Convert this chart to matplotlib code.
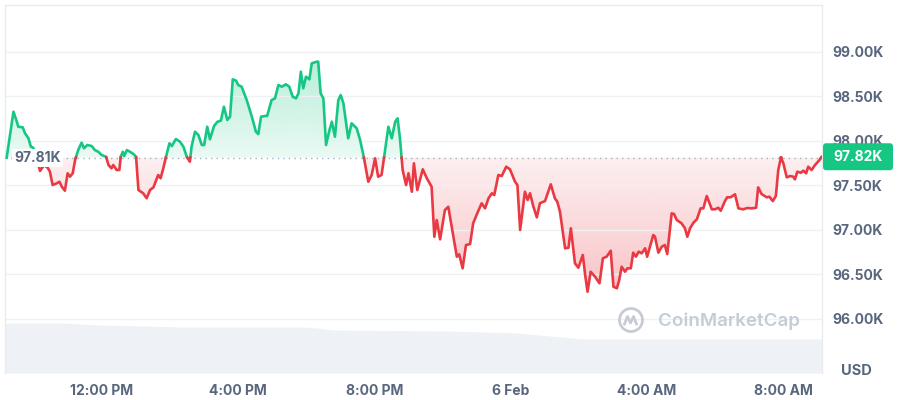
import numpy as np
import matplotlib
matplotlib.use("Agg")
import matplotlib.pyplot as plt
from matplotlib.patches import FancyBboxPatch, Circle, PathPatch
from matplotlib.path import Path
from matplotlib.colors import to_rgb
import matplotlib.transforms as mtransforms

plt.rcParams['font.family'] = ['Inter', 'DejaVu Sans']

# ---- data: hours since 00:00 on 5 Feb (values > 24 are on 6 Feb) ----
hours = [
    9.20, 9.40, 9.50, 9.54, 9.67, 9.74, 9.84, 9.91, 9.98, 10.06,
    10.12, 10.18, 10.30, 10.41, 10.47,
    10.55, 10.67, 10.75, 10.82, 10.91, 10.99, 11.06, 11.14, 11.21, 11.30,
    11.40, 11.47, 11.57, 11.70, 11.79, 11.89, 11.99, 12.12, 12.19, 12.28,
    12.33, 12.43, 12.51, 12.55, 12.61, 12.65, 12.73, 12.82, 12.92, 13.00,
    13.07, 13.21, 13.31, 13.41, 13.51, 13.65, 13.72, 13.80, 13.88, 13.98,
    14.05, 14.17, 14.29, 14.39, 14.49, 14.58, 14.63, 14.73, 14.83, 14.93,
    15.00, 15.09, 15.17, 15.29, 15.39, 15.49, 15.58, 15.68, 15.76, 15.84,
    15.94, 16.00, 16.10, 16.25, 16.40, 16.52, 16.59, 16.67, 16.79, 16.85,
    16.98, 17.08, 17.18, 17.28, 17.40, 17.50, 17.60, 17.70, 17.77, 17.84,
    17.91, 17.99, 18.09, 18.16, 18.31, 18.35, 18.42, 18.50, 18.58, 18.68,
    18.75, 18.84, 18.94, 19.01, 19.09, 19.23, 19.33, 19.48, 19.58, 19.69,
    19.82, 19.92, 20.02, 20.11, 20.21, 20.28, 20.41, 20.51, 20.61, 20.68,
    20.75, 20.83, 20.93, 21.00, 21.10, 21.16, 21.26, 21.42, 21.54, 21.68,
    21.76, 21.83, 21.93, 22.07, 22.17, 22.37, 22.42, 22.49, 22.59, 22.69,
    22.81, 22.90, 23.02, 23.15, 23.25, 23.35, 23.45, 23.52, 23.64, 23.74,
    23.87, 23.98, 24.13, 24.20, 24.28, 24.42, 24.50, 24.57, 24.67, 24.77,
    24.86, 25.01, 25.18, 25.30, 25.37, 25.45, 25.60, 25.70, 25.77, 25.89,
    25.99, 26.12, 26.19, 26.26, 26.35, 26.48, 26.61, 26.71, 26.82, 26.94,
    27.02, 27.12, 27.19, 27.26, 27.36, 27.43, 27.53, 27.60, 27.68, 27.76,
    27.85, 27.95, 28.01, 28.19, 28.24, 28.34, 28.44, 28.53, 28.60, 28.73,
    28.80, 28.88, 29.02, 29.12, 29.19, 29.27, 29.37, 29.47, 29.58, 29.66,
    29.76, 29.91, 30.00, 30.10, 30.17, 30.30, 30.36, 30.46, 30.59, 30.69,
    30.83, 30.95, 31.08, 31.21, 31.27, 31.37, 31.52, 31.60, 31.70, 31.79,
    31.86, 31.94, 32.01, 32.11, 32.21, 32.30, 32.35, 32.42, 32.52, 32.60,
    32.68, 32.74, 32.84, 32.94, 33.07, 33.14,
]

prices = [
    97810, 98326, 98213, 98157, 98151, 98083, 98027, 97933, 97921, 97820,
    97749, 97660, 97727, 97693, 97652,
    97502, 97521, 97539, 97483, 97438, 97634, 97596, 97634, 97783, 97895,
    97978, 97915, 97952, 97940, 97895, 97876, 97839, 97820, 97727, 97690,
    97727, 97671, 97671, 97820, 97876, 97828, 97895, 97876, 97851, 97820,
    97446, 97409, 97353, 97446, 97476, 97615, 97578, 97690, 97820, 97971,
    97940, 98019, 97989, 97933, 97820, 97764, 97933, 98101, 98064, 97952,
    97952, 98157, 98016, 98165, 98213, 98225, 98382, 98233, 98270, 98690,
    98674, 98626, 98607, 98457, 98270, 98101, 98075, 98270, 98278, 98278,
    98457, 98476, 98626, 98607, 98634, 98607, 98494, 98476, 98533, 98775,
    98589, 98719, 98690, 98870, 98888, 98888, 98533, 98476, 97952, 98120,
    98213, 98045, 98457, 98513, 98420, 98027, 98196, 98139, 98008, 97813,
    97539, 97615, 97802, 97596, 97615, 97802, 98157, 98027, 98213, 98252,
    98027, 97671, 97502, 97634, 97427, 97746, 97446, 97679, 97578, 97483,
    96921, 97109, 96892, 97221, 97258, 96809, 96697, 96724, 96566, 96828,
    96839, 97072, 97184, 97297, 97240, 97353, 97409, 97390, 97615, 97603,
    97708, 97679, 97539, 97502, 96997, 97427, 97334, 97409, 97258, 97139,
    97297, 97322, 97510, 97353, 97315, 97202, 96791, 96798, 97016, 96622,
    96573, 96716, 96491, 96303, 96528, 96472, 96398, 96679, 96697, 96764,
    96360, 96342, 96435, 96584, 96528, 96566, 96566, 96742, 96697, 96753,
    96735, 96791, 96697, 96940, 96921, 96742, 96809, 96828, 96727, 97184,
    97176, 97109, 97072, 97016, 96921, 97016, 97079, 97117, 97240, 97240,
    97379, 97229, 97229, 97247, 97213, 97326, 97364, 97364, 97398, 97240,
    97229, 97244, 97240, 97247, 97476, 97401, 97364, 97371, 97322, 97379,
    97671, 97813, 97746, 97589, 97603, 97596, 97566, 97652, 97640, 97663,
    97634, 97708, 97671, 97727, 97783, 97820,
]

# rolling volume (relative units) sampled along the day
vol_hours = [9.15, 10.77, 11.94, 14.38, 17.81, 18.31, 18.78, 22.22, 23.19, 24.19, 25.16, 26.13, 33.15]
vol_values = [50, 50, 48, 46, 46, 45, 43, 42, 41, 40, 37, 34, 34]

open_price = 97810
last_price = 97820
open_label = "97.81K"
last_label = "97.82K"

price_ticks = [96000, 96500, 97000, 97500, 98000, 98500, 99000]
price_tick_labels = ["96.00K", "96.50K", "97.00K", "97.50K", "98.00K", "98.50K", "99.00K"]
time_ticks = [12, 16, 20, 24, 28, 32]
time_tick_labels = ["12:00 PM", "4:00 PM", "8:00 PM", "6 Feb", "4:00 AM", "8:00 AM"]

GREEN = "#16c784"
RED = "#ea3943"
LABEL = "#58667e"
GRID = "#eef0f4"

# ---- figure ----
fig = plt.figure(figsize=(9, 4), dpi=100)
fig.patch.set_facecolor("white")
rect = [5 / 900, 1 - 373 / 400, 817 / 900, 368 / 400]
xlim = (9.151, 33.145)
ylim = (95390, 99525)

axv = fig.add_axes(rect, zorder=0)
ax = fig.add_axes(rect, zorder=1)
ax.set_facecolor("none")

# volume
axv.fill_between(vol_hours, 0, vol_values, color="#eef1f5", lw=0)
axv.set_xlim(*xlim)
axv.set_ylim(0, 368)
axv.axis("off")

# price line split at the opening price
t = np.array(hours, float)
p = np.array(prices, float)
base = open_price
tt, pp = [t[0]], [p[0]]
for i in range(1, len(t)):
    p0, p1 = p[i - 1], p[i]
    if (p0 - base) * (p1 - base) < 0:
        tc = t[i - 1] + (base - p0) / (p1 - p0) * (t[i] - t[i - 1])
        tt.append(tc)
        pp.append(base)
    tt.append(t[i])
    pp.append(p[i])
tt = np.array(tt)
pp = np.array(pp)


def gradient_fill(ax, x, upper, lower, color, y0, y1, a0, a1):
    verts = np.column_stack([np.r_[x, x[::-1]], np.r_[upper, lower[::-1]]])
    patch = PathPatch(Path(verts), facecolor="none", edgecolor="none", transform=ax.transData)
    ax.add_patch(patch)
    n = 256
    rgba = np.zeros((n, 1, 4))
    rgba[..., :3] = to_rgb(color)
    rgba[:, 0, 3] = np.linspace(a0, a1, n)
    im = ax.imshow(rgba, extent=[x[0], x[-1], y0, y1], origin="lower",
                   aspect="auto", zorder=1, interpolation="bilinear")
    im.set_clip_path(patch)


up = np.maximum(pp, base)
dn = np.minimum(pp, base)
basearr = np.full_like(pp, base)
gradient_fill(ax, tt, up, basearr, GREEN, base, up.max(), 0.09, 0.30)
gradient_fill(ax, tt, basearr, dn, RED, dn.min(), base, 0.30, 0.08)

green = np.where(pp >= base, pp, np.nan)
red = np.where(pp <= base, pp, np.nan)
ax.plot(tt, green, color=GREEN, lw=1.9, zorder=3, solid_joinstyle="round")
ax.plot(tt, red, color=RED, lw=1.9, zorder=3, solid_joinstyle="round")

# baseline dotted
ax.axhline(base, color="#a6b0c3", lw=1.0, ls=(0, (1, 3)), zorder=2)

ax.set_xlim(*xlim)
ax.set_ylim(*ylim)

# grid + ticks
ax.set_yticks(price_ticks)
ax.set_yticklabels(price_tick_labels)
ax.yaxis.tick_right()
ax.set_xticks(time_ticks)
ax.set_xticklabels(time_tick_labels)
ax.grid(axis="y", color=GRID, lw=1.0, zorder=0)
ax.tick_params(axis="y", length=0, pad=7.5, labelsize=10, labelcolor=LABEL)
ax.tick_params(axis="x", length=0, pad=8, labelsize=10, labelcolor=LABEL)
for lab in ax.get_yticklabels() + ax.get_xticklabels():
    lab.set_fontweight("bold")
for s in ["left", "top", "right"]:
    ax.spines[s].set_color("#e8ebf0")
    ax.spines[s].set_linewidth(1.0)
ax.spines["bottom"].set_visible(False)

# opening price label on the left
ax.text(0.0395, base, open_label, transform=mtransforms.blended_transform_factory(ax.transAxes, ax.transData),
        ha="center", va="center", fontsize=10, fontweight="bold", color=LABEL, zorder=5,
        bbox=dict(boxstyle="square,pad=0.15", fc="white", ec="none"))

# current price badge
disp = ax.transData.transform((xlim[1], last_price))
yc_in = disp[1] / fig.dpi
xr_in = disp[0] / fig.dpi
badge = FancyBboxPatch((xr_in + 0.01, yc_in - 0.135), 0.70, 0.27,
                       boxstyle="round,pad=0,rounding_size=0.03",
                       transform=fig.dpi_scale_trans, fc=GREEN, ec="none", zorder=10)
fig.patches.append(badge)
badge.set_figure(fig)
fig.text((xr_in + 0.01 + 0.35) / 9, yc_in / 4, last_label, ha="center", va="center",
         color="white", fontsize=10, fontweight="bold", zorder=11)

# currency label
fig.text(856 / 900, 1 - 371 / 400, "USD", ha="center", va="center", color=LABEL,
         fontsize=10.5, fontweight="bold")

# watermark
wm = "#c6ccd6"
circ = Circle((6.31, 0.80), 0.115, transform=fig.dpi_scale_trans, fill=False, ec=wm, lw=2.0, zorder=4)
fig.patches.append(circ)
circ.set_figure(fig)
mx = np.array([-0.065, -0.035, -0.005, 0.025, 0.055]) + 6.31
my = np.array([-0.04, 0.035, -0.03, 0.035, -0.04]) + 0.80
fig.lines.append(plt.Line2D(mx, my, transform=fig.dpi_scale_trans, color=wm, lw=2.0, zorder=4))
fig.text(729 / 900, 1 - 321 / 400, "CoinMarketCap", ha="center", va="center", color=wm,
         fontsize=13.5, fontweight="semibold", zorder=4)

fig.savefig("out.png", dpi=100)
